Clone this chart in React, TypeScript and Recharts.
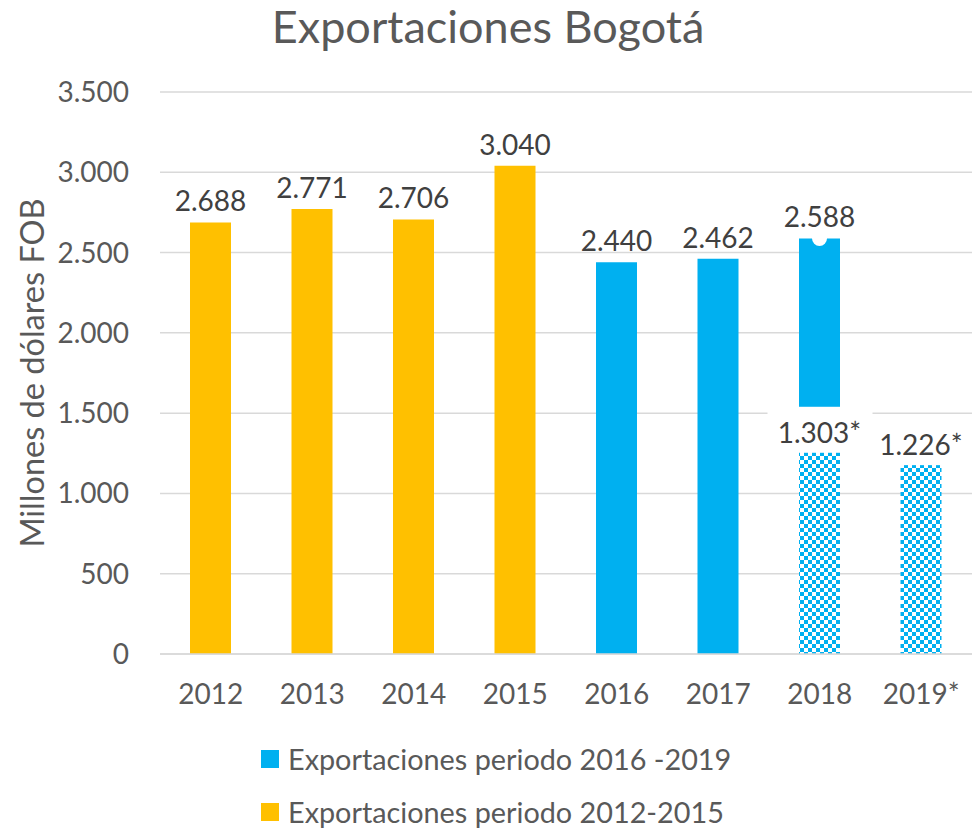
import { BarChart, Bar, XAxis, YAxis, CartesianGrid, LabelList, Legend, Label, Rectangle } from "recharts";

const years = ["2012", "2013", "2014", "2015", "2016", "2017", "2018", "2019*"];
const periodo2012 = [2688, 2771, 2706, 3040, null, null, null, null];
const periodo2016 = [null, null, null, null, 2440, 2462, 2588, null];
const parciales = [null, null, null, null, null, null, 1303, 1226];
const yTicks = [0, 500, 1000, 1500, 2000, 2500, 3000, 3500];
const notched = ["2018"];

const YELLOW = "#FFC000";
const BLUE = "#00B0F0";
const FONT = "Lato, 'DejaVu Sans', sans-serif";

const data = years.map((year, i) => ({
  year,
  periodo2012: periodo2012[i],
  periodo2016: periodo2016[i],
  parcial: parciales[i],
}));

const fmt = (v: number) => String(v).replace(/\B(?=(\d{3})+(?!\d))/g, ".");

function TopLabel(props: any) {
  const { x, y, width, value } = props;
  if (value == null) return null;
  return (
    <text x={x + width / 2} y={y - 22} textAnchor="middle" dominantBaseline="central" fontSize={28} fill="#404040" fontFamily={FONT}>
      {fmt(value)}
    </text>
  );
}

function BoxLabel(props: any) {
  const { x, y, width, value } = props;
  if (value == null) return null;
  const cx = x + width / 2;
  const cy = y - 15;
  return (
    <g>
      <rect x={cx - 52} y={cy - 23} width={105} height={46} fill="#fff" />
      <text x={cx} y={cy + 2} textAnchor="middle" dominantBaseline="central" fontSize={28} fill="#404040" fontFamily={FONT}>
        {fmt(value) + "*"}
      </text>
    </g>
  );
}

// blue bar, with the little white notch Excel left on top of 2018
function NotchedBar(props: any) {
  const { x, y, width, payload } = props;
  return (
    <g>
      <Rectangle {...props} />
      {payload && notched.includes(payload.year) && <circle cx={x + width / 2} cy={y} r={7.5} fill="#fff" />}
    </g>
  );
}

function LegendBox() {
  const items = [
    { color: BLUE, text: "Exportaciones periodo 2016 -2019" },
    { color: YELLOW, text: "Exportaciones periodo 2012-2015" },
  ];
  return (
    <div style={{ fontFamily: FONT, fontSize: 28.8, color: "#595959" }}>
      {items.map((it) => (
        <div key={it.text} style={{ display: "flex", alignItems: "center", height: 53 }}>
          <span style={{ width: 18, height: 18, background: it.color, marginRight: 9, display: "inline-block" }} />
          {it.text}
        </div>
      ))}
    </div>
  );
}

export default function App() {
  return (
    <div style={{ position: "absolute", left: 0, top: 0, width: 972, height: 828, background: "#fff", overflow: "hidden" }}>
      <div style={{ position: "absolute", top: -1, left: 0, width: 976, textAlign: "center", fontFamily: FONT, fontSize: 45, color: "#595959" }}>
        Exportaciones Bogotá
      </div>
      <BarChart width={972} height={828} data={data} margin={{ top: 92, right: 0, bottom: 144, left: 0 }}>
        <defs>
          <pattern id="checker" width="8" height="8" patternUnits="userSpaceOnUse">
            <rect width="8" height="8" fill="#fff" />
            <rect width="4" height="4" fill={BLUE} />
            <rect x="4" y="4" width="4" height="4" fill={BLUE} />
          </pattern>
        </defs>
        <CartesianGrid vertical={false} stroke="#d9d9d9" strokeWidth={1.5} />
        <XAxis
          xAxisId="a"
          dataKey="year"
          tickLine={false}
          axisLine={{ stroke: "#d9d9d9", strokeWidth: 1.5 }}
          tick={{ fill: "#595959", fontSize: 28, fontFamily: FONT }}
          tickMargin={24}
          interval={0}
        />
        <XAxis xAxisId="b" dataKey="year" hide />
        <XAxis xAxisId="c" dataKey="year" hide />
        <YAxis
          width={160}
          domain={[0, 3500]}
          ticks={yTicks}
          tickFormatter={fmt}
          tickLine={false}
          axisLine={false}
          tickMargin={25}
          tick={{ fill: "#595959", fontSize: 28, fontFamily: FONT }}
        >
          <Label
            value="Millones de dólares FOB"
            angle={-90}
            position="insideLeft"
            offset={32}
            style={{ textAnchor: "middle", fill: "#595959", fontSize: 32.5, fontFamily: FONT }}
          />
        </YAxis>
        <Legend
          layout="horizontal"
          verticalAlign="middle"
          align="center"
          content={<LegendBox />}
          wrapperStyle={{ position: "absolute", top: 732, left: 261, width: 600 }}
        />
        <Bar xAxisId="a" dataKey="periodo2012" fill={YELLOW} barSize={41} isAnimationActive={false}>
          <LabelList dataKey="periodo2012" content={<TopLabel />} />
        </Bar>
        <Bar xAxisId="b" dataKey="periodo2016" fill={BLUE} barSize={41} shape={<NotchedBar />} isAnimationActive={false}>
          <LabelList dataKey="periodo2016" content={<TopLabel />} />
        </Bar>
        <Bar xAxisId="c" dataKey="parcial" fill="url(#checker)" barSize={41} isAnimationActive={false}>
          <LabelList dataKey="parcial" content={<BoxLabel />} />
        </Bar>
      </BarChart>
    </div>
  );
}
